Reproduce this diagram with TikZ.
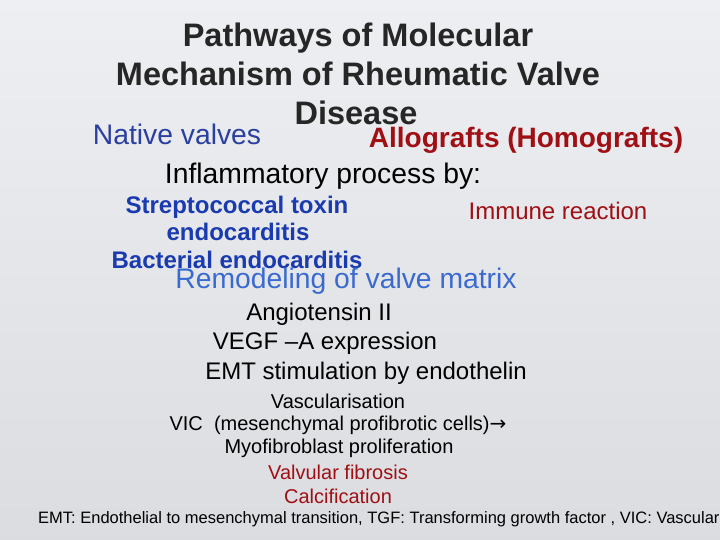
\documentclass[tikz,border=0pt]{standalone}
\usepackage{fontspec}
\setmainfont{Liberation Sans}
\newfontfamily\symfont{DejaVu Sans}
\definecolor{slidebg}{HTML}{E6E8EC}
\definecolor{natblue}{HTML}{2A3FA0}
\definecolor{strepblue}{HTML}{1A3AB0}
\definecolor{remblue}{HTML}{3A6AD0}
\definecolor{allored}{HTML}{A00F14}
\tikzset{
  titletext/.style={font=\fontsize{32.5}{34}\selectfont\bfseries, text=black!85},
  bigtext/.style={font=\fontsize{28.3}{30}\selectfont},
  boldbig/.style={font=\fontsize{28}{30}\selectfont\bfseries},
  steptext/.style={font=\fontsize{24}{26}\selectfont},
  boldstep/.style={font=\fontsize{24}{26}\selectfont\bfseries},
  smalltext/.style={font=\fontsize{20}{22}\selectfont},
}
\begin{document}
\begin{tikzpicture}[x=1pt,y=-1pt,inner sep=0pt]
    \fill[top color=slidebg!70!white,bottom color=slidebg!95!black] (0,0) rectangle (720,540);
    \useasboundingbox (0,0) rectangle (720,540);
      \node[titletext] (T1) at (358,38) {Pathways of Molecular};
      \node[titletext] (T2) at (358,74) {Mechanism of Rheumatic Valve};
      \node[titletext] (T3) at (356,113) {Disease};
      \node[bigtext,text=natblue] (NV) at (177,134) {Native valves};
      \node[boldbig,text=allored] (AG) at (526,140) {Allografts (Homografts)};
      \node[bigtext] (IP) at (323,176) {Inflammatory process by:};
      \node[boldstep,text=strepblue] (ST) at (237,207) {Streptococcal toxin};
      \node[boldstep,text=strepblue] (SE) at (238,232) {endocarditis};
      \node[boldstep,text=strepblue] (BE) at (237,260) {Bacterial endocarditis};
      \node[steptext,text=allored] (IR) at (558,211) {Immune reaction};
      \node[bigtext,text=remblue] (RM) at (346,281) {Remodeling of valve matrix};
      \node[steptext] (AN) at (319,314) {Angiotensin II};
      \node[steptext] (VE) at (325,343) {VEGF --A expression};
      \node[steptext] (EM) at (366,373) {EMT stimulation by endothelin};
      \node[smalltext] (VA) at (338,401) {Vascularisation};
      \node[smalltext] (VI) at (338,425) {VIC\ \ (mesenchymal profibrotic cells){\symfont→}};
      \node[smalltext] (MY) at (339,448) {Myofibroblast proliferation};
      \node[smalltext,text=allored] (VF) at (338,472) {Valvular fibrosis};
      \node[smalltext,text=allored] (CA) at (338,496) {Calcification};
      \node[font=\fontsize{16.5}{18}\selectfont,anchor=west] (FT) at (38,519) {EMT: Endothelial to mesenchymal transition, TGF: Transforming growth factor , VIC: Vascular interstitial cells};
   \end{tikzpicture}
\end{document}
